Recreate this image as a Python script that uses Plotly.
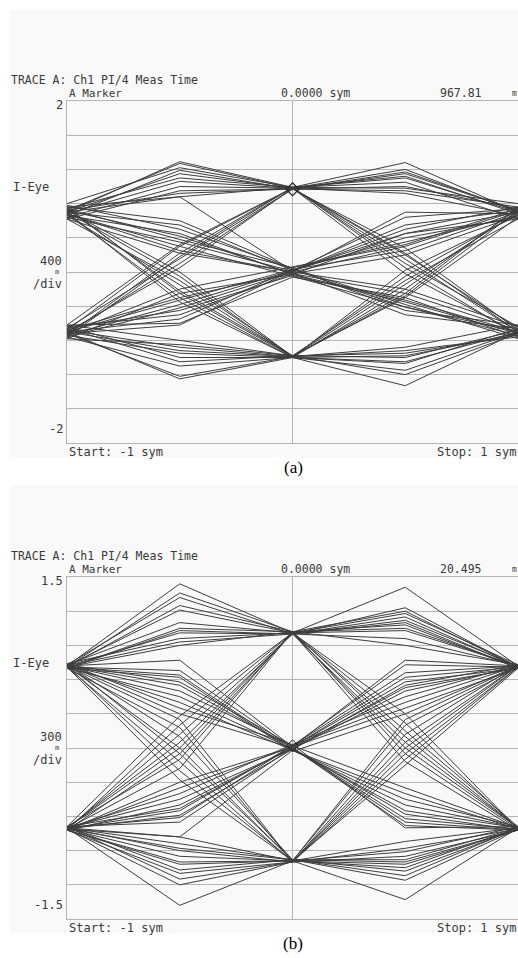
import plotly.graph_objects as go

# sample instants (symbols)
x_sym = [-1, -0.5, 0, 0.5, 1]

# ---------- panel (a): I-eye, values at x = -1, -0.5, 0, 0.5, 1 ----------
a_top = [
    [0.70, 1.29, 0.99, 1.28, 0.70], [0.72, 1.27, 0.98, 0.15, -0.70],
    [0.66, 1.19, 0.97, 1.17, 0.72], [0.74, 1.10, 0.99, 1.12, 0.68],
    [0.68, 1.06, 0.98, 0.20, -0.66], [0.62, 0.95, 0.97, 1.00, 0.74],
    [0.76, 0.88, 0.99, 0.05, -0.74], [0.70, 1.15, 0.98, 0.92, 0.66],
    [-0.70, 0.05, 0.98, 1.20, 0.70], [-0.66, 0.15, 0.97, 0.28, -0.68],
    [-0.74, 0.22, 0.99, 1.05, 0.62], [-0.68, 0.30, 0.98, -0.02, -0.72],
    [-0.72, 0.10, 0.97, 0.95, 0.76], [0.64, 1.00, 0.98, 0.10, -0.64],
    [-0.76, 0.18, 0.99, 1.10, 0.70], [0.72, 0.92, 0.97, 1.15, 0.72],
    [-0.62, 0.32, 0.98, 0.22, -0.70], [0.80, 1.22, 0.99, 0.98, 0.80],
]
a_mid = [
    [0.70, 0.55, 0.02, 0.45, 0.70], [0.66, 0.45, -0.03, -0.33, -0.70],
    [0.74, 0.38, 0.05, 0.35, 0.66], [0.68, 0.30, -0.05, -0.41, -0.74],
    [0.62, 0.22, 0.00, 0.30, 0.72], [0.76, 0.60, 0.04, -0.45, -0.62],
    [0.70, 0.88, 0.01, 0.50, 0.76], [0.72, 0.42, -0.02, -0.25, -0.68],
    [-0.70, -0.55, 0.03, 0.25, 0.70], [-0.66, -0.45, -0.04, -0.35, -0.72],
    [-0.74, -0.38, 0.02, 0.40, 0.64], [-0.68, -0.30, -0.01, -0.50, -0.66],
    [-0.72, -0.20, 0.06, 0.32, 0.74], [-0.62, -0.60, -0.06, -0.30, -0.76],
    [-0.76, -0.42, 0.00, 0.70, 0.68], [-0.70, -0.33, 0.03, -0.41, -0.70],
    [0.64, 0.35, 0.01, 0.55, 0.72], [-0.64, -0.50, -0.02, 0.20, 0.66],
    [0.78, 0.50, 0.04, -0.38, -0.78], [-0.78, -0.25, -0.03, 0.45, 0.62],
    [0.68, 0.25, 0.00, -0.20, -0.64], [-0.72, -0.62, 0.02, 0.64, 0.74],
]
a_bot = [
    [-0.70, -1.25, -1.00, -1.33, -0.70], [-0.72, -1.22, -0.99, -0.15, 0.70],
    [-0.66, -1.05, -0.98, -1.20, -0.72], [-0.74, -0.95, -1.00, -1.07, -0.66],
    [-0.68, -0.88, -0.99, -0.05, 0.68], [-0.62, -0.80, -0.98, -0.95, -0.74],
    [-0.76, -1.10, -1.00, -0.20, 0.74], [-0.70, -0.92, -0.99, -0.88, -0.62],
    [0.70, -0.05, -1.00, -1.15, -0.70], [0.66, -0.15, -0.99, -0.28, 0.72],
    [0.74, -0.22, -0.98, -1.00, -0.68], [0.68, -0.30, -1.00, 0.02, 0.66],
    [0.72, 0.00, -0.99, -0.92, -0.76], [0.62, -0.10, -0.98, -0.10, 0.62],
    [-0.64, -1.00, -1.00, -1.05, -0.70], [0.76, -0.25, -0.99, -0.25, 0.76],
    [-0.78, -0.85, -0.98, -0.30, 0.64], [0.70, -0.35, -1.00, -0.98, -0.72],
]
a_marker = [0.0, 0.96781]

# ---------- panel (b) ----------
b_top = [
    [0.72, 1.44, 1.01, 1.41, 0.72], [0.71, 1.36, 1.02, 0.10, -0.70],
    [0.73, 1.32, 1.00, 1.23, 0.71], [0.72, 1.21, 1.01, 1.18, 0.73],
    [0.70, 1.05, 1.02, -0.05, -0.71], [0.72, 1.01, 1.00, 1.12, 0.72],
    [0.74, 0.96, 1.01, 0.15, -0.69], [0.71, 0.90, 1.02, 1.08, 0.70],
    [-0.70, 0.00, 1.01, 1.03, 0.72], [-0.71, 0.12, 1.00, 0.05, -0.70],
    [-0.69, -0.10, 1.02, 0.90, 0.73], [-0.72, 0.20, 1.01, -0.12, -0.72],
    [-0.70, 0.05, 1.00, 1.15, 0.71], [0.73, 1.10, 1.01, 0.22, -0.71],
    [-0.71, -0.18, 1.02, 1.05, 0.72], [0.72, 0.93, 1.00, 0.96, 0.72],
    [-0.69, 0.28, 1.01, 0.00, -0.70], [0.71, 1.25, 1.02, 1.20, 0.71],
    [-0.72, -0.05, 1.01, 0.30, -0.71], [0.70, 1.03, 1.00, 1.10, 0.70],
]
b_mid = [
    [0.72, 0.77, 0.01, 0.77, 0.72], [0.71, 0.64, -0.02, -0.50, -0.70],
    [0.73, 0.58, 0.02, 0.73, 0.71], [0.72, 0.55, 0.00, -0.65, -0.72],
    [0.70, 0.45, -0.01, 0.55, 0.73], [0.74, 0.35, 0.03, -0.70, -0.69],
    [0.71, 0.68, 0.00, 0.53, 0.70], [0.72, 0.40, -0.02, -0.40, -0.71],
    [-0.70, -0.61, 0.02, 0.40, 0.72], [-0.71, -0.59, -0.01, -0.55, -0.70],
    [-0.69, -0.53, 0.01, 0.62, 0.71], [-0.72, -0.50, 0.00, -0.68, -0.72],
    [-0.70, -0.40, 0.03, 0.45, 0.73], [-0.71, -0.78, -0.02, -0.45, -0.69],
    [-0.72, -0.30, 0.01, 0.35, 0.70], [-0.69, -0.65, 0.00, -0.62, -0.71],
    [0.72, 0.50, 0.02, 0.66, 0.72], [-0.70, -0.45, -0.01, 0.50, 0.71],
    [0.73, 0.30, 0.00, -0.58, -0.72], [-0.71, -0.55, 0.02, -0.35, -0.70],
    [0.70, 0.62, -0.03, 0.30, 0.72], [-0.72, -0.35, 0.01, 0.58, 0.70],
]
b_bot = [
    [-0.70, -1.38, -0.99, -1.33, -0.70], [-0.71, -1.20, -1.00, 0.00, 0.72],
    [-0.69, -1.07, -0.98, -1.16, -0.71], [-0.72, -1.00, -0.99, -1.05, -0.70],
    [-0.70, -0.90, -1.00, -0.10, 0.71], [-0.71, -0.88, -0.98, -1.00, -0.72],
    [-0.70, -0.78, -0.99, -0.91, -0.69], [-0.72, -1.10, -1.00, 0.12, 0.73],
    [0.72, 0.00, -0.99, -0.82, -0.70], [0.71, -0.12, -1.00, 0.05, 0.72],
    [0.73, 0.10, -0.98, -1.08, -0.71], [0.72, -0.20, -0.99, -0.15, 0.70],
    [0.70, 0.18, -1.00, -0.95, -0.72], [-0.71, -0.95, -0.99, 0.20, 0.71],
    [0.74, -0.05, -0.98, -1.12, -0.70], [-0.69, -1.15, -1.00, -0.88, -0.71],
    [0.71, -0.28, -0.99, 0.25, 0.72], [-0.70, -0.84, -0.98, -0.98, -0.70],
    [0.72, 0.25, -1.00, -0.05, 0.71], [-0.72, -1.02, -0.99, -1.02, -0.72],
]
b_marker = [0.0, 0.020495]

LINE = "#3e3e3e"
GRID = "#b4b4b4"
TXT = "#3a3a3a"
BG = "#f9f9f9"
W, H = 518, 958

fig = go.Figure()


def add_group(groups, xa, ya):
    xs, ys = [], []
    for g in groups:
        for tr in g:
            xs += x_sym + [None]
            ys += tr + [None]
    fig.add_trace(go.Scatter(x=xs, y=ys, mode="lines", xaxis=xa, yaxis=ya,
                             line=dict(color=LINE, width=1), hoverinfo="skip",
                             showlegend=False))


add_group([a_top, a_mid, a_bot], "x", "y")
add_group([b_top, b_mid, b_bot], "x2", "y2")
fig.add_trace(go.Scatter(x=[a_marker[0]], y=[a_marker[1]], mode="markers", xaxis="x", yaxis="y",
                         marker=dict(symbol="diamond-open", size=10, color="#222", line=dict(width=1.2)),
                         showlegend=False))
fig.add_trace(go.Scatter(x=[b_marker[0]], y=[b_marker[1]], mode="markers", xaxis="x2", yaxis="y2",
                         marker=dict(symbol="diamond-open", size=9, color="#222", line=dict(width=1)),
                         showlegend=False))


def px_dom(top, bottom):
    return [(H - bottom) / H, (H - top) / H]


ax_common = dict(showgrid=True, gridcolor=GRID, gridwidth=1, showline=True, linecolor=GRID,
                 linewidth=1, mirror=True, showticklabels=False, ticks="", zeroline=False,
                 fixedrange=True)

a_top_px, a_bot_px = 101, 443
b_top_px, b_bot_px = 577, 919

fig.update_layout(
    width=W, height=H, margin=dict(l=0, r=0, t=0, b=0),
    paper_bgcolor="white", plot_bgcolor=BG,
    xaxis=dict(domain=[67 / W, 1.0], range=[-1, 1], tickvals=[0], anchor="y", **ax_common),
    yaxis=dict(domain=px_dom(a_top_px, a_bot_px), range=[-2, 2],
               tickvals=[-1.6, -1.2, -0.8, -0.4, 0, 0.4, 0.8, 1.2, 1.6], anchor="x", **ax_common),
    xaxis2=dict(domain=[67 / W, 1.0], range=[-1, 1], tickvals=[0], anchor="y2", **ax_common),
    yaxis2=dict(domain=px_dom(b_top_px, b_bot_px), range=[-1.5, 1.5],
                tickvals=[-1.2, -0.9, -0.6, -0.3, 0, 0.3, 0.6, 0.9, 1.2], anchor="x2", **ax_common),
)

# light gray instrument-screen backgrounds
for top, bot in [(10, 457), (485, 933)]:
    fig.add_shape(type="rect", xref="paper", yref="paper", x0=10 / W, x1=1.0,
                  y0=(H - bot) / H, y1=(H - top) / H, fillcolor=BG, line=dict(width=0),
                  layer="below")

MONO = "DejaVu Sans Mono"


def ann(text, px, py, xanchor="left", size=12, family=MONO, color=TXT):
    fig.add_annotation(text=text, x=px / W, y=1 - py / H, xref="paper", yref="paper",
                       xanchor=xanchor, yanchor="middle", showarrow=False,
                       font=dict(family=family, size=size, color=color))


panels = [
    dict(off=0, marker_val="967.81", ytop="2", ybot="-2", div="400", lab="(a)"),
    dict(off=476, marker_val="20.495", ytop="1.5", ybot="-1.5", div="300", lab="(b)"),
]
for p in panels:
    o = p["off"]
    ann("TRACE A: Ch1 PI/4 Meas Time", 9, 80 + o, size=11.5)
    ann("A Marker", 67, 93 + o, size=11)
    ann("0.0000 sym", 279, 93 + o, size=11.5)
    ann(p["marker_val"], 484, 93 + o, xanchor="right", size=11.5)
    ann("m", 510, 93 + o, size=8)
    ann(p["ytop"], 65, 105 + o, xanchor="right")
    ann(p["ybot"], 65, 429 + o, xanchor="right")
    ann("I-Eye", 11, 187 + o)
    ann(p["div"], 64, 261 + o, xanchor="right")
    ann("m", 61, 272 + o, xanchor="right", size=7)
    ann("/div", 64, 284 + o, xanchor="right")
    ann("Start: -1 sym", 67, 452 + o)
    ann("Stop: 1 sym", 518, 452 + o, xanchor="right")
    ann(p["lab"], 293, 467 + o, xanchor="center", size=17, family="Liberation Serif", color="black")

fig.write_html("out.html", config={"displayModeBar": False},
               post_script="document.body.style.margin='0px';")
